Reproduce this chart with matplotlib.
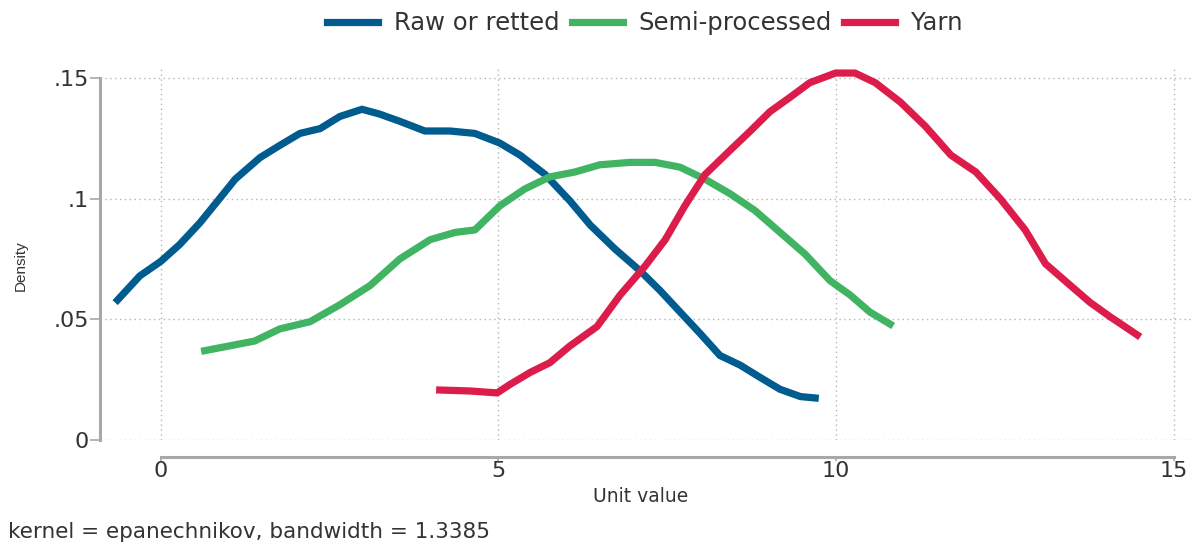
import matplotlib.pyplot as plt

plt.rcParams['font.family'] = ['DejaVu Sans']

raw_x = [-0.64, -0.31, 0.0, 0.28, 0.58, 0.87, 1.10, 1.47, 1.76, 2.06, 2.36, 2.65, 2.98,
         3.24, 3.54, 3.91, 4.28, 4.65, 5.02, 5.32, 5.69, 6.06, 6.36, 6.73, 7.10, 7.39,
         7.69, 7.99, 8.28, 8.58, 8.87, 9.17, 9.47, 9.69]
raw_y = [0.058, 0.068, 0.074, 0.081, 0.090, 0.100, 0.108, 0.117, 0.122, 0.127, 0.129,
         0.134, 0.137, 0.135, 0.132, 0.128, 0.128, 0.127, 0.123, 0.118, 0.110, 0.099,
         0.089, 0.079, 0.070, 0.062, 0.053, 0.044, 0.035, 0.031, 0.026, 0.021, 0.018, 0.0174]

semi_x = [0.65, 1.02, 1.39, 1.76, 2.21, 2.65, 3.10, 3.54, 3.99, 4.36, 4.65, 5.02, 5.39,
          5.76, 6.13, 6.50, 6.95, 7.32, 7.69, 8.06, 8.43, 8.80, 9.17, 9.54, 9.91, 10.21,
          10.50, 10.80]
semi_y = [0.037, 0.039, 0.041, 0.046, 0.049, 0.056, 0.064, 0.075, 0.083, 0.086, 0.087,
          0.097, 0.104, 0.109, 0.111, 0.114, 0.115, 0.115, 0.113, 0.108, 0.102, 0.095,
          0.086, 0.077, 0.066, 0.060, 0.053, 0.048]

yarn_x = [4.13, 4.58, 4.98, 5.17, 5.47, 5.76, 6.06, 6.46, 6.80, 7.17, 7.47, 7.76, 8.06,
          8.43, 8.73, 9.02, 9.32, 9.61, 9.99, 10.28, 10.58, 10.95, 11.32, 11.70, 12.07,
          12.43, 12.80, 13.10, 13.47, 13.76, 14.06, 14.46]
yarn_y = [0.0207, 0.0203, 0.0195, 0.023, 0.028, 0.032, 0.039, 0.047, 0.060, 0.072, 0.083,
          0.097, 0.110, 0.120, 0.128, 0.136, 0.142, 0.148, 0.152, 0.152, 0.148, 0.140,
          0.130, 0.118, 0.111, 0.100, 0.087, 0.073, 0.064, 0.057, 0.051, 0.0435]

xticks = [0, 5, 10, 15]
yticks = [0, 0.05, 0.1, 0.15]
ytick_labels = ['0', '.05', '.1', '.15']

txt = '#333333'
spine_col = '#a8a8a8'

fig = plt.figure(figsize=(12.01, 5.43), dpi=100)
ax = fig.add_axes([0.0833, 0.1897, 0.9092, 0.6891])

ax.plot(raw_x, raw_y, color='#005b8f', lw=5.2, label='Raw or retted')
ax.plot(semi_x, semi_y, color='#41b463', lw=5.2, label='Semi-processed')
ax.plot(yarn_x, yarn_y, color='#dc1c4b', lw=5.2, label='Yarn')

ax.set_xlim(-0.9, 15.27)
ax.set_ylim(0, 0.155)
ax.set_xticks(xticks)
ax.set_xticklabels([str(t) for t in xticks])
ax.set_yticks(yticks)
ax.set_yticklabels(ytick_labels)

ax.grid(True, color='#b5b5b5', linestyle=(0, (1, 2.5)), linewidth=1)

for s in ['top', 'right']:
    ax.spines[s].set_visible(False)
ax.spines['left'].set_color(spine_col)
ax.spines['left'].set_linewidth(2.2)
ax.spines['left'].set_bounds(0, 0.15)
ax.spines['bottom'].set_color(spine_col)
ax.spines['bottom'].set_linewidth(2.2)
ax.spines['bottom'].set_bounds(0, 15)
ax.spines['bottom'].set_position(('outward', 12))

ax.tick_params(axis='both', colors=spine_col, labelcolor=txt, labelsize=16, width=1.2)
ax.tick_params(axis='y', length=7, pad=1)
ax.tick_params(axis='x', length=3, pad=0)

ax.set_xlabel('Unit value', fontsize=13.5, color=txt)
ax.xaxis.set_label_coords(0.495, -0.125)
ax.set_ylabel('Density', fontsize=11, color=txt,
              family=['Liberation Sans Narrow', 'Liberation Sans', 'DejaVu Sans'])
ax.yaxis.set_label_coords(-0.066, 0.465)

leg = fig.legend(loc='upper center', bbox_to_anchor=(0.537, 1.02), ncol=3, frameon=False,
                 fontsize=17.5, handlelength=2.1, handletextpad=0.65, columnspacing=0.5)
for t in leg.get_texts():
    t.set_color(txt)

fig.text(0.007, 0.01, 'kernel = epanechnikov, bandwidth = 1.3385', fontsize=15.5, color=txt)

fig.savefig('out.png', dpi=100)
